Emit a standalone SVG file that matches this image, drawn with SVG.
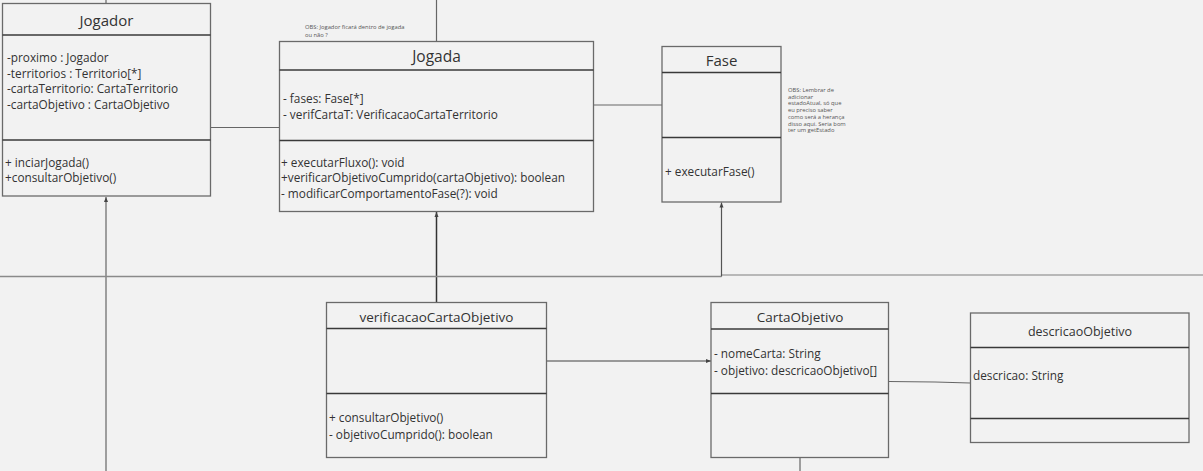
<svg xmlns="http://www.w3.org/2000/svg" width="1203" height="471" viewBox="0 0 1203 471">
<defs>
<style>
text{font-family:"Open Sans","Noto Sans","Liberation Sans",sans-serif;fill:#333}
.box{fill:#f2f2f2;stroke:#6a6a6a;stroke-width:1.3}
.sep{stroke:#3a3a3a;stroke-width:1.5}
.t{font-size:15px;text-anchor:middle}
.ts{font-size:13.5px;text-anchor:middle}
.m{font-size:11.8px}
.note{font-size:5.8px;fill:#555}
.conn{fill:none;stroke:#666;stroke-width:1.2}
</style>
<marker id="ah" markerWidth="6" markerHeight="6" refX="5" refY="3" orient="auto" markerUnits="userSpaceOnUse">
<path d="M0,1 L5,3 L0,5 z" fill="#444"/>
</marker>
</defs>
<rect width="1203" height="471" fill="#f2f2f2"/>

<g id="connectors">
<line class="conn" x1="106" y1="0" x2="106" y2="3"/>
<line class="conn" x1="436.5" y1="0" x2="436.5" y2="41.5"/>
<line class="conn" x1="106" y1="471" x2="106" y2="197" marker-end="url(#ah)"/>
<line class="conn" x1="210.5" y1="127.5" x2="279" y2="127.5"/>
<line class="conn" x1="593" y1="105" x2="662" y2="105"/>
<line class="conn" x1="436.5" y1="302.5" x2="436.5" y2="212" marker-end="url(#ah)" style="stroke:#333;stroke-width:1.5"/>
<line class="conn" x1="0" y1="276.5" x2="721.5" y2="276.5" style="stroke:#8a8a8a;stroke-width:1.6"/>
<line class="conn" x1="721.5" y1="275" x2="1203" y2="275" style="stroke:#b8b8b8;stroke-width:2"/>
<line class="conn" x1="721.5" y1="276.5" x2="721.5" y2="202.5" marker-end="url(#ah)" style="stroke:#555"/>
<line class="conn" x1="546.5" y1="361" x2="711" y2="361" marker-end="url(#ah)" style="stroke:#999;stroke-width:1.8"/>
<polyline class="conn" points="888.5,381.5 935,382 970,383"/>
<line class="conn" x1="800" y1="457.5" x2="800" y2="471"/>
</g>

<g id="Jogador">
<rect class="box" x="2.5" y="3.5" width="208" height="192.5"/>
<line class="sep" x1="2.5" y1="35" x2="210.5" y2="35"/>
<line class="sep" x1="2.5" y1="140" x2="210.5" y2="140"/>
<text class="t" x="106.5" y="26">Jogador</text>
<text class="m" x="7" y="61.5">-proximo : Jogador</text>
<text class="m" x="7" y="77.5">-territorios : Territorio[*]</text>
<text class="m" x="7" y="93">-cartaTerritorio: CartaTerritorio</text>
<text class="m" x="7" y="108.5">-cartaObjetivo : CartaObjetivo</text>
<text class="m" x="5" y="166.5">+ inciarJogada()</text>
<text class="m" x="5" y="181.5">+consultarObjetivo()</text>
</g>

<g id="Jogada">
<text class="note" x="305" y="29">OBS: Jogador ficará dentro de jogada</text>
<text class="note" x="305" y="37">ou não ?</text>
<rect class="box" x="279.5" y="41.5" width="314" height="170"/>
<line class="sep" x1="279.5" y1="70" x2="593.5" y2="70"/>
<line class="sep" x1="279.5" y1="140.5" x2="593.5" y2="140.5"/>
<text class="t" x="436.5" y="62" style="font-size:15.5px">Jogada</text>
<text class="m" x="283" y="102.5">- fases: Fase[*]</text>
<text class="m" x="283" y="118.5">- verifCartaT: VerificacaoCartaTerritorio</text>
<text class="m" x="281" y="166.5">+ executarFluxo(): void</text>
<text class="m" x="281" y="181.5">+verificarObjetivoCumprido(cartaObjetivo): boolean</text>
<text class="m" x="281" y="197.5">- modificarComportamentoFase(?): void</text>
</g>

<g id="Fase">
<rect class="box" x="662" y="46.5" width="119" height="155.5"/>
<line class="sep" x1="662" y1="72.5" x2="781" y2="72.5"/>
<line class="sep" x1="662" y1="137.5" x2="781" y2="137.5"/>
<text class="t" x="721.5" y="66">Fase</text>
<text class="m" x="665" y="175.5">+ executarFase()</text>
<text class="note" x="788" y="92">OBS: Lembrar de</text>
<text class="note" x="788" y="98.7">adicionar</text>
<text class="note" x="788" y="105.4">estadoAtual, só que</text>
<text class="note" x="788" y="112.1">eu preciso saber</text>
<text class="note" x="788" y="118.8">como será a herança</text>
<text class="note" x="788" y="125.5">disso aqui. Seria bom</text>
<text class="note" x="788" y="132.2">ter um getEstado</text>
</g>

<g id="verificacaoCartaObjetivo">
<rect class="box" x="326.5" y="302.5" width="220" height="155"/>
<line class="sep" x1="326.5" y1="328.5" x2="546.5" y2="328.5"/>
<line class="sep" x1="326.5" y1="393.5" x2="546.5" y2="393.5"/>
<text class="ts" x="436.5" y="321.5">verificacaoCartaObjetivo</text>
<text class="m" x="329" y="422">+ consultarObjetivo()</text>
<text class="m" x="329" y="439">- objetivoCumprido(): boolean</text>
</g>

<g id="CartaObjetivo">
<rect class="box" x="711" y="302.5" width="177.5" height="155"/>
<line class="sep" x1="711" y1="329" x2="888.5" y2="329"/>
<line class="sep" x1="711" y1="393.5" x2="888.5" y2="393.5"/>
<text class="ts" x="800" y="321.5">CartaObjetivo</text>
<text class="m" x="714" y="357.5">- nomeCarta: String</text>
<text class="m" x="714" y="375">- objetivo: descricaoObjetivo[]</text>
</g>

<g id="descricaoObjetivo">
<rect class="box" x="970.5" y="313" width="218.5" height="129.5"/>
<line class="sep" x1="970.5" y1="347.5" x2="1189" y2="347.5"/>
<line class="sep" x1="970.5" y1="418.5" x2="1189" y2="418.5"/>
<text class="ts" x="1080" y="336" style="font-size:12.5px">descricaoObjetivo</text>
<text class="m" x="973" y="380">descricao: String</text>
</g>
</svg>
